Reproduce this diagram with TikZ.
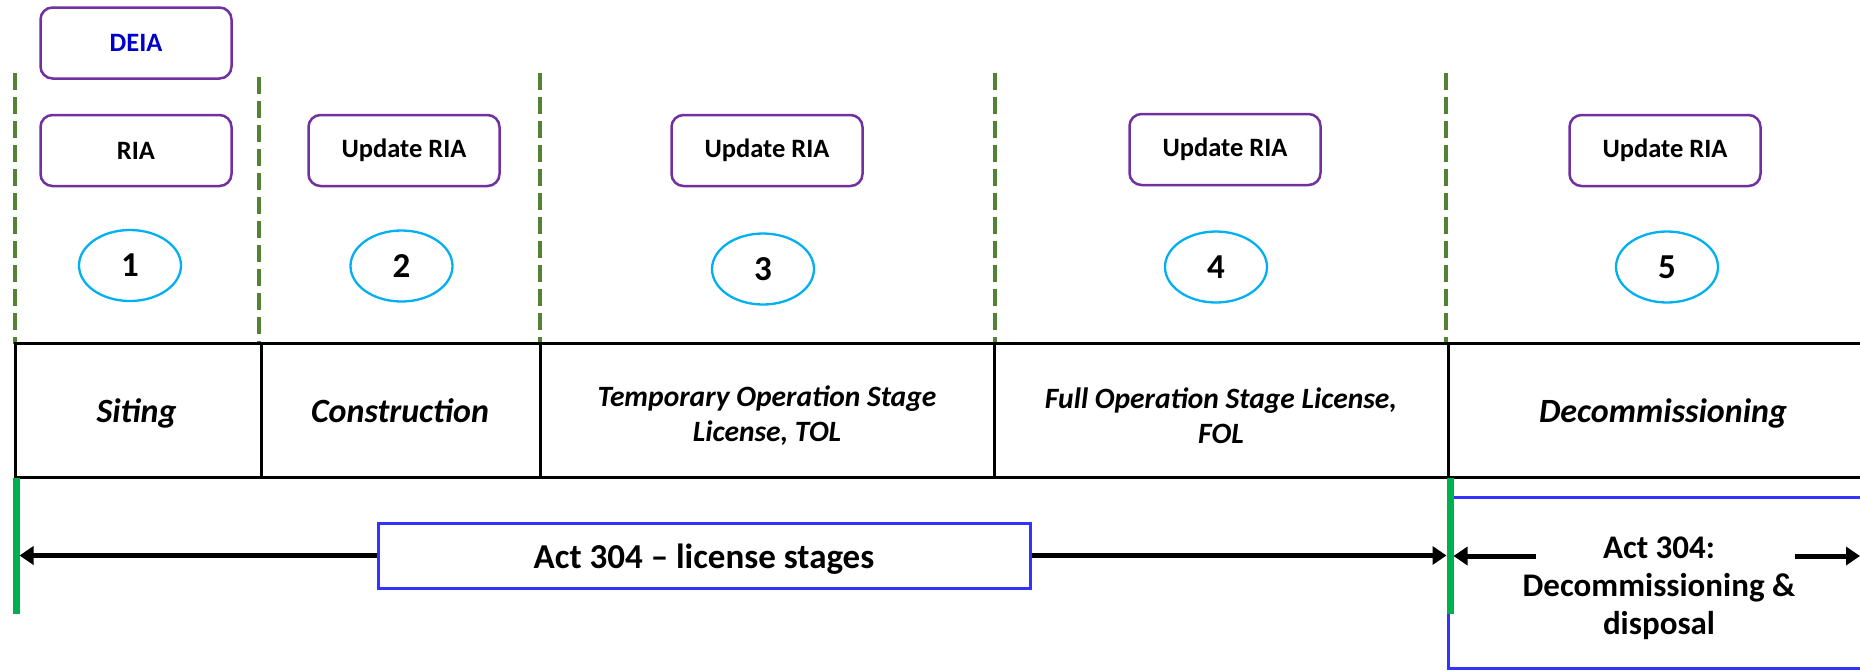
\documentclass[tikz,border=0pt]{standalone}
\usepackage{fontspec}
\setmainfont{Carlito}
\usetikzlibrary{shapes.geometric,arrows.meta}
\definecolor{boxpurple}{RGB}{112,48,160}
\definecolor{ellblue}{RGB}{0,176,240}
\definecolor{dashgreen}{RGB}{84,130,53}
\definecolor{solidgreen}{RGB}{0,176,80}
\definecolor{actblue}{RGB}{51,51,255}
\definecolor{deiablue}{RGB}{0,0,204}
\begin{document}
\begin{tikzpicture}[x=1pt,y=-1pt,
  iabox/.style={draw=boxpurple, line width=2.5pt, rounded corners=12pt, minimum width=191pt, minimum height=71pt, inner sep=0pt, font=\fontsize{26.5}{31}\selectfont\bfseries},
  numell/.style={ellipse, draw=ellblue, line width=2.3pt, minimum width=102pt, minimum height=71pt, inner sep=0pt, font=\fontsize{35}{40}\selectfont\bfseries},
  cell/.style={draw=black, line width=3pt, minimum height=134pt, inner sep=0pt},
  celltext/.style={inner sep=0pt, align=center, font=\fontsize{34}{38}\selectfont\bfseries\itshape},
  celltextsmall/.style={inner sep=0pt, align=center, font=\fontsize{29.5}{35}\selectfont\bfseries\itshape},
  sepline/.style={draw=dashgreen, line width=4.5pt, dash pattern=on 17pt off 7pt},
  boundline/.style={draw=solidgreen, line width=7pt},
  actbox/.style={draw=actblue, line width=3pt, inner sep=0pt},
  acttext/.style={inner sep=0pt, align=center, font=\fontsize{33}{38}\selectfont\bfseries},
  conn/.style={draw=black, line width=5pt, -{Triangle[length=14pt,width=18pt]}}
]
\useasboundingbox (0,0) rectangle (1860,670);
\clip (0,0) rectangle (1860,670);
\fill[white] (0,0) rectangle (1860,670);

% dashed separators
\coordinate (d1t) at (15,73);   \coordinate (d1b) at (15,344);
\coordinate (d2t) at (259,77);  \coordinate (d2b) at (259,344);
\coordinate (d3t) at (540,73);  \coordinate (d3b) at (540,344);
\coordinate (d4t) at (995,73);  \coordinate (d4b) at (995,344);
\coordinate (d5t) at (1446,73); \coordinate (d5b) at (1446,344);
\draw[sepline] (d1t) -- (d1b);
\draw[sepline] (d2t) -- (d2b);
\draw[sepline] (d3t) -- (d3b);
\draw[sepline] (d4t) -- (d4b);
\draw[sepline] (d5t) -- (d5b);

% assessment boxes
\node[iabox, text=deiablue] (deia) at (136,43) {DEIA};
\node[iabox] (ria1) at (136,150.5) {RIA};
\node[iabox] (ria2) at (404,150.5) {Update RIA};
\node[iabox] (ria3) at (767,150.5) {Update RIA};
\node[iabox] (ria4) at (1225,149.5) {Update RIA};
\node[iabox] (ria5) at (1665,150.5) {Update RIA};

% stage numbers
\node[numell] (n1) at (130,265.5) {1};
\node[numell] (n2) at (401.5,266) {2};
\node[numell] (n3) at (763,269) {3};
\node[numell] (n4) at (1216,267) {4};
\node[numell] (n5) at (1667,267) {5};

% stage table
\node[cell, minimum width=246pt] (c1) at (138,410) {};
\node[cell, minimum width=279pt] (c2) at (400.5,410) {};
\node[cell, minimum width=454pt] (c3) at (767,410) {};
\node[cell, minimum width=454pt] (c4) at (1221,410) {};
\node[cell, minimum width=432pt] (c5) at (1664,410) {};
\node[celltext, anchor=base] (t1) at (136.5,422) {Siting};
\node[celltext, anchor=base] (t2) at (400,422) {Construction};
\node[celltextsmall] (t3) at (767,416) {Temporary Operation Stage\\License, TOL};
\node[celltextsmall] (t4) at (1221,416) {Full Operation Stage License,\\FOL};
\node[celltext, anchor=base] (t5) at (1663,422) {Decommissioning};

% act boxes
\node[actbox, minimum width=652pt, minimum height=65pt] (act) at (704,555.5) {};
\node[acttext, anchor=base, font=\fontsize{35}{40}\selectfont\bfseries] (actt) at (704,568) {Act 304 -- license stages};
\node[actbox, minimum width=436pt, minimum height=171pt] (actd) at (1666,582.5) {};
\node[acttext] (actdt) at (1659,588.5) {Act 304:\\Decommissioning \&\\disposal};

% green boundary lines
\coordinate (g1t) at (16,478);   \coordinate (g1b) at (16,614);
\coordinate (g2t) at (1450,478); \coordinate (g2b) at (1450,614);
\draw[boundline] (g1t) -- (g1b);
\draw[boundline] (g2t) -- (g2b);

% arrows
\draw[conn] (act.west) -- ([xshift=3.5pt]g1t |- act.west);
\draw[conn] (act.east) -- ([xshift=-3.5pt]g2t |- act.east);
\coordinate (dl) at (1536,556);
\coordinate (dr) at (1795,556);
\coordinate (dre) at (1860,556);
\draw[conn] (dl) -- ([xshift=3.5pt]g2t |- dl);
\draw[conn] (dr) -- (dre);
\end{tikzpicture}
\end{document}
